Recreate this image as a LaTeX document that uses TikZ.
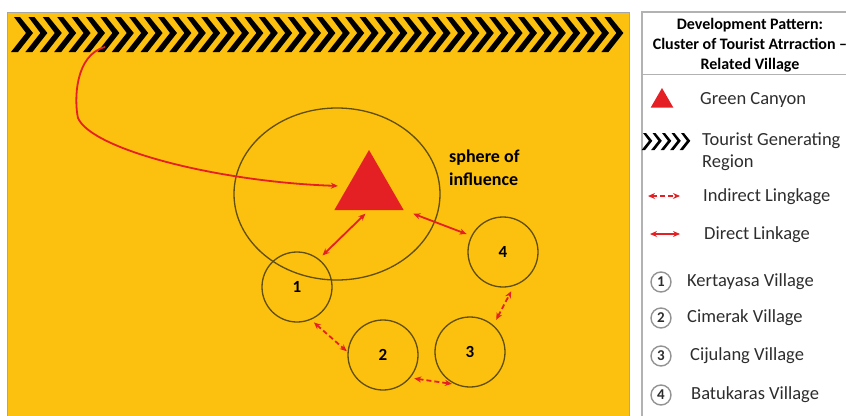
\documentclass[tikz,border=0pt]{standalone}
\usepackage{fontspec}
\setmainfont{Carlito}
\usetikzlibrary{shapes.geometric,arrows.meta}

\definecolor{panelyellow}{RGB}{252,192,14}
\definecolor{canyonred}{RGB}{229,32,36}
\definecolor{ringline}{RGB}{95,78,12}
\definecolor{legendgray}{RGB}{178,178,178}
\definecolor{legendtext}{RGB}{45,45,45}

\tikzset{
  chev/.pic={\fill[black] (0,0) -- ++(6,0) -- ++(13,16) -- ++(-15,19) -- ++(-7,0) -- ++(15,-19) -- cycle;},
  village/.style={circle, draw=ringline, line width=1.3pt, minimum size=70pt, inner sep=0pt,
    font=\fontsize{17}{17}\selectfont\bfseries},
  direct/.style={canyonred, line width=1.8pt, {Stealth[length=7pt,width=6pt]}-{Stealth[length=7pt,width=6pt]}},
  indirect/.style={direct, dash pattern=on 5pt off 3pt},
  keynum/.style={circle, draw=gray!85, line width=1.4pt, minimum size=20pt, inner sep=0pt,
    font=\fontsize{15}{15}\selectfont\bfseries, text=legendtext},
  keytext/.style={anchor=west, inner sep=0pt, text=legendtext, font=\fontsize{18.5}{18.5}\selectfont},
}

\begin{document}
\begin{tikzpicture}[x=1pt, y=-1pt]
    \useasboundingbox (0,0) rectangle (846,415);

    % Panel
    \fill[panelyellow] (7,12) rectangle (629,430);
    \draw[gray!70, line width=0.8pt] (7,430) -- (7,12) -- (629,12) -- (629,430);

    % Tourist generating region
    \foreach \i in {0,...,41}
        \pic at ({14+14.4*\i},17) {chev};

    % Green Canyon and its sphere of influence
    \node[ellipse, draw=ringline, line width=1.3pt, minimum width=206pt, minimum height=172pt] (sphere) at (337,194) {};
    \node[regular polygon, regular polygon sides=3, fill=canyonred, minimum size=80pt, inner sep=0pt] (gc) at (369,190) {};
    \node[anchor=west, align=left, inner sep=0pt, font=\fontsize{18}{23}\selectfont\bfseries] (soi) at (449,168) {sphere of\\influence};

    % Villages
    \node[village] (v1) at (297,287) {1};
    \node[village] (v2) at (383,355) {2};
    \node[village] (v3) at (470,352) {3};
    \node[village] (v4) at (503,252) {4};

    % Linkages
    \coordinate (src) at (105,47);
    \draw[canyonred, line width=1.8pt, -{Stealth[length=7pt,width=6pt]}, shorten >=10pt]
        (src) .. controls (75,55) and (74,100) .. (78,118)
        .. controls (92,150) and (220,182) .. (gc.170);
    \draw[direct, shorten <=5pt, shorten >=5pt] (gc.side 2) -- (v1.52);
    \draw[direct, shorten <=10pt, shorten >=5pt] (gc.corner 3) -- (v4.153);
    \draw[indirect, shorten <=4pt, shorten >=1pt] (v1.-67) -- (v2.175);
    \draw[indirect, shorten <=4pt, shorten >=3pt] (v2.-40) -- (v3.245);
    \draw[indirect, shorten <=6pt, shorten >=6pt] (v3.49) -- (v4.-72);

    % Legend
    \draw[legendgray, line width=1.5pt] (642,430) -- (642,12) -- (860,12);
    \draw[legendgray, line width=1pt] (642,74) -- (860,74);
    \node[align=center, inner sep=0pt, font=\fontsize{16}{20}\selectfont\bfseries] (title) at (750,45)
        {Development Pattern:\\Cluster of Tourist Atrraction –\\Related Village};

    \node[regular polygon, regular polygon sides=3, fill=canyonred, minimum size=26pt, inner sep=0pt] (keygc) at (662,101) {};
    \node[keytext] (tgc) at (700,100) {Green Canyon};

    \foreach \i in {0,...,4}
        \pic[scale=0.49] at ({643+9.5*\i},133) {chev};
    \node[keytext] (ttgr) at (702,141) {Tourist Generating};
    \node[keytext] (treg) at (702,163) {Region};

    \coordinate (ia) at (648,196);
    \coordinate (ib) at (680,196);
    \draw[indirect, line width=1.5pt] (ia) -- (ib);
    \node[keytext] (tind) at (703,197) {Indirect Lingkage};

    \coordinate (da) at (650,234);
    \coordinate (db) at (680,234);
    \draw[direct, line width=1.5pt] (da) -- (db);
    \node[keytext] (tdir) at (704,235) {Direct Linkage};

    \node[keynum] (k1) at (661,282) {1};
    \node[keytext] (t1) at (687,282) {Kertayasa Village};
    \node[keynum] (k2) at (661,318) {2};
    \node[keytext] (t2) at (687,318) {Cimerak Village};
    \node[keynum] (k3) at (661,356) {3};
    \node[keytext] (t3) at (690,356) {Cijulang Village};
    \node[keynum] (k4) at (661,395) {4};
    \node[keytext] (t4) at (691,395) {Batukaras Village};
\end{tikzpicture}
\end{document}
